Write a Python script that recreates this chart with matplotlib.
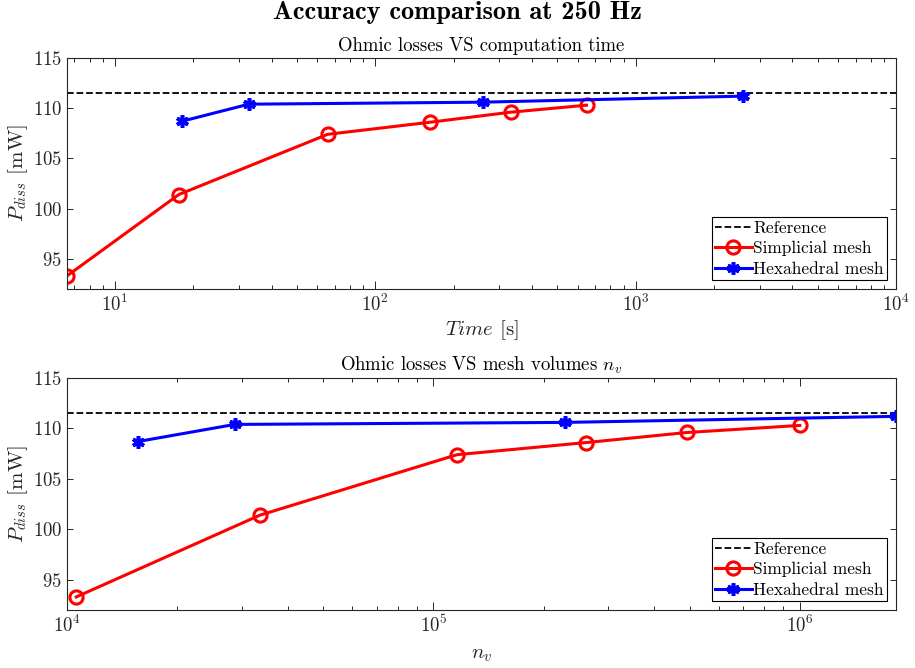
import os
import numpy as np
import matplotlib
matplotlib.use("Agg")
import matplotlib.pyplot as plt
from matplotlib.font_manager import FontProperties

# -- Data
p_ref = 111.5
simp_time = [6.55, 17.6, 65.7, 162, 331, 648]
simp_nv = [1.06e4, 3.36e4, 1.16e5, 2.61e5, 4.92e5, 1.0e6]
simp_p = [93.3, 101.4, 107.4, 108.6, 109.6, 110.3]
hexa_time = [18.1, 32.7, 259, 2576]
hexa_nv = [1.56e4, 2.87e4, 2.29e5, 1.83e6]
hexa_p = [108.7, 110.4, 110.6, 111.2]

plt.rcParams['font.family'] = 'serif'
plt.rcParams['font.serif'] = ['cmr10']
plt.rcParams['mathtext.fontset'] = 'cm'
plt.rcParams['axes.formatter.use_mathtext'] = True
plt.rcParams['axes.unicode_minus'] = False

fig = plt.figure(figsize=(9.15, 6.68), dpi=100)
ax1 = fig.add_axes([0.0732, 0.5674, 0.906, 0.3458])
ax2 = fig.add_axes([0.0732, 0.0868, 0.906, 0.3473])

asterisk = (6, 2, 0)
dark = '#262626'

def draw(ax, xs, xh, xlim, title, xlabel, lpad):
    ax.plot(xlim, [p_ref, p_ref], '--', color='k', lw=1.3, label='Reference')
    ax.plot(xs, simp_p, '-o', color='red', lw=2.2, ms=9.5, mfc='none',
            mew=2.2, label='Simplicial mesh')
    ax.plot(xh, hexa_p, '-', marker=asterisk, color='blue', lw=2.2, ms=9,
            mew=2.6, label='Hexahedral mesh')
    ax.set_xscale('log')
    ax.set_xlim(xlim)
    ax.set_ylim(92, 115)
    ax.set_yticks([95, 100, 105, 110, 115])
    ax.tick_params(which='both', direction='in', top=True, right=True,
                   labelsize=13.5, color=dark, labelcolor=dark, width=0.7)
    ax.tick_params(axis='x', which='major', length=6)
    ax.tick_params(axis='x', which='minor', length=3.2)
    ax.tick_params(axis='y', which='major', length=4.5)
    for s in ax.spines.values():
        s.set_color(dark)
        s.set_linewidth(0.8)
    ax.set_title(title, fontsize=13.5, pad=5)
    ax.set_xlabel(xlabel, fontsize=15, color=dark, labelpad=lpad)
    ax.set_ylabel(r'$P_{diss}$ [mW]', fontsize=15, color=dark, labelpad=2)
    leg = ax.legend(loc='lower right', fontsize=12.5, fancybox=False,
                    framealpha=1, edgecolor='k', handlelength=2.1,
                    borderpad=0.2, labelspacing=0.3, handletextpad=0.1,
                    borderaxespad=0.5)
    leg.get_frame().set_linewidth(0.8)

draw(ax1, simp_time, hexa_time, [simp_time[0], 1e4],
     'Ohmic losses VS computation time', r'$Time$ [s]', 2)
draw(ax2, simp_nv, hexa_nv, [1e4, hexa_nv[-1]],
     r'Ohmic losses VS mesh volumes $n_v$', r'$n_v$', 7)

bold = FontProperties(fname=os.path.join(matplotlib.get_data_path(),
                                         'fonts', 'ttf', 'cmb10.ttf'),
                      size=19)
fig.text(0.5, 0.982, 'Accuracy comparison at 250 Hz', ha='center',
         va='center', fontproperties=bold)

fig.savefig('out.png', dpi=100)
